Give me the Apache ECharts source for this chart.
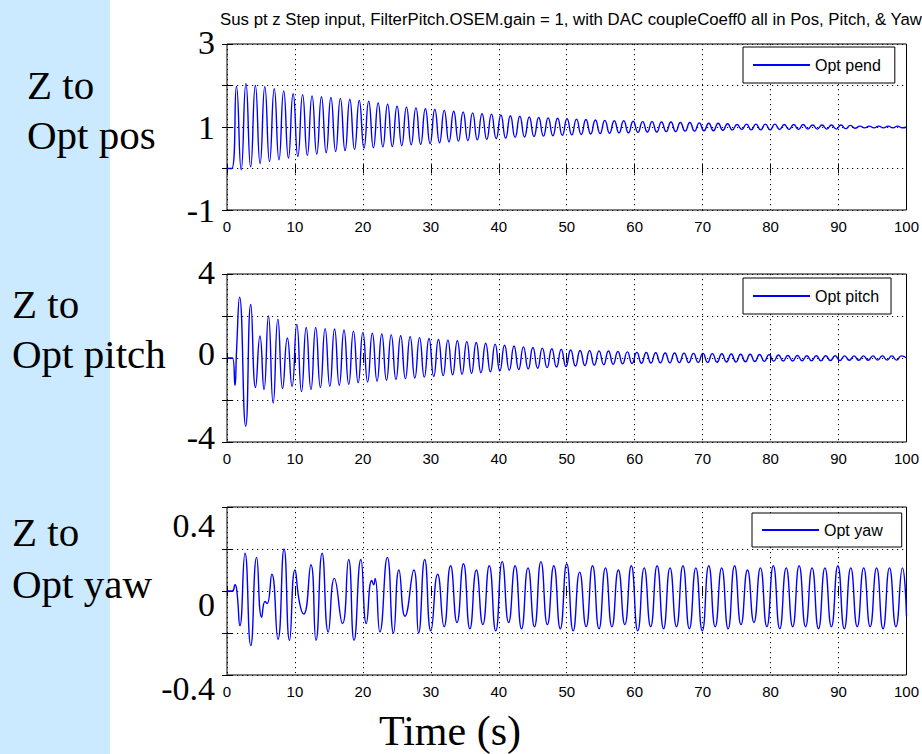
<!DOCTYPE html>
<html>
<head>
<meta charset="utf-8">
<script src="https://cdn.jsdelivr.net/npm/echarts@6/dist/echarts.min.js"></script>
<style>
html,body{margin:0;padding:0;background:#fff;}
#c{width:922px;height:754px;}
</style>
</head>
<body>
<div id="c"></div>
<script>
// ---------- data ----------
const titleText = 'Sus pt z Step input, FilterPitch.OSEM.gain = 1, with DAC coupleCoeff0 all in Pos, Pitch, & Yaw';
const xTicks = [0, 100, 10];          // min, max, interval (s)
const seriesNames = ['Opt pend', 'Opt pitch', 'Opt yaw'];
const rowLabels = [['Z to', 'Opt pos'], ['Z to', 'Opt pitch'], ['Z to', 'Opt yaw']];
const xTitle = 'Time (s)';

// y tick labels shown (big overlaid labels)
const posTickVals = [3, 1, -1];       const posTickText = ['3', '1', '-1'];
const pitchTickVals = [4, 0, -4];     const pitchTickText = ['4', '0', '-4'];
const yawTickVals = [0.4, 0, -0.4];   const yawTickText = ['0.4', '0', '-0.4'];

// Opt pend: troughs and peaks of the oscillation (alternating, half-period 0.695 s from t=0.7)
const pendTroughs = [
 0.00,-0.03,0.04,0.12,0.17,0.21,0.25,0.29,0.32,0.35,
 0.38,0.41,0.43,0.46,0.49,0.50,0.52,0.53,0.55,0.57,
 0.58,0.60,0.62,0.64,0.66,0.67,0.69,0.70,0.72,0.73,
 0.75,0.76,0.77,0.78,0.79,0.80,0.81,0.82,0.83,0.84,
 0.85,0.86,0.86,0.87,0.88,0.88,0.89,0.89,0.90,0.90,
 0.91,0.91,0.92,0.93,0.94,0.93,0.93,0.93,0.94,0.94,
 0.94,0.95,0.95,0.95,0.95,0.96,0.97,0.98,0.98,0.98,
 0.98,0.98];
const pendPeaks = [
 1.98,2.05,2.00,1.97,1.92,1.87,1.80,1.78,1.75,1.73,
 1.71,1.69,1.67,1.64,1.62,1.58,1.55,1.50,1.48,1.46,
 1.44,1.42,1.40,1.38,1.36,1.34,1.32,1.31,1.29,1.27,
 1.26,1.24,1.23,1.22,1.21,1.20,1.19,1.18,1.17,1.16,
 1.15,1.15,1.14,1.13,1.13,1.12,1.12,1.11,1.11,1.10,
 1.09,1.09,1.08,1.06,1.07,1.07,1.07,1.07,1.06,1.06,
 1.06,1.05,1.05,1.05,1.05,1.04,1.02,1.02,1.02,1.02,
 1.02];
const pendStart = [[0, 0]];
const pendEnd = [[100, 1.0]];

// Opt pitch: irregular start, then peaks/troughs (half-period 0.695 s from t=6.1)
const pitchEarlyT = [0, 0.8, 1.17, 1.4, 1.85, 2.75, 3.5, 4.2, 4.85, 5.45];
const pitchEarlyV = [0, 0, -1.3, 0.3, 2.9, -3.25, 2.55, -1.4, 1.05, -1.5];
const pitchPeaks = [
 2.00,1.85,0.95,1.60,1.45,1.45,1.40,1.38,1.33,1.28,
 1.22,1.18,1.14,1.10,1.06,1.02,0.97,0.93,0.88,0.85,
 0.82,0.78,0.74,0.70,0.66,0.61,0.57,0.53,0.50,0.47,
 0.44,0.41,0.38,0.36,0.35,0.34,0.33,0.31,0.29,0.27,
 0.26,0.25,0.24,0.24,0.23,0.22,0.22,0.21,0.20,0.19,
 0.18,0.18,0.17,0.16,0.14,0.12,0.12,0.11,0.11,0.11,
 0.11,0.10,0.10,0.10,0.10,0.10,0.10,0.10];
const pitchTroughs = [
 -2.15,-1.45,-1.35,-1.60,-1.50,-1.40,-1.35,-1.30,-1.25,-1.18,
 -1.14,-1.10,-1.06,-1.02,-0.98,-0.95,-0.91,-0.88,-0.84,-0.80,
 -0.77,-0.73,-0.70,-0.66,-0.62,-0.58,-0.55,-0.52,-0.49,-0.46,
 -0.43,-0.41,-0.38,-0.36,-0.34,-0.32,-0.30,-0.28,-0.26,-0.25,
 -0.24,-0.23,-0.23,-0.22,-0.22,-0.21,-0.21,-0.20,-0.19,-0.19,
 -0.18,-0.17,-0.16,-0.15,-0.14,-0.14,-0.13,-0.13,-0.13,-0.12,
 -0.12,-0.11,-0.11,-0.11,-0.10,-0.10,-0.10];
const pitchEnd = [[100, 0.0]];

// Opt yaw: irregular beating start, then peaks/troughs (half-period 0.95 s from t=31)
const yawEarlyT = [0,0.78,1.18,1.45,1.9,2.65,3.5,4.36,5.1,5.6,5.9,6.6,7.5,8.4,9.2,10.0,10.7,11.3,12.35,13.1,
  14.0,14.9,15.8,17.0,17.9,18.7,19.7,20.5,21.3,21.6,21.8,22.5,23.6,24.5,25.3,26.2,27.5,28.2,29.1,30.0];
const yawEarlyV = [0,0,0.03,0.0,-0.165,0.18,-0.26,0.16,-0.125,-0.05,-0.06,0.08,-0.23,0.2,-0.235,0.1,-0.06,-0.11,0.125,-0.235,
  0.18,-0.195,0.06,-0.155,0.15,-0.235,0.15,-0.155,0.05,0.03,0.06,-0.195,0.16,-0.2,0.1,-0.12,0.1,-0.2,0.15,-0.19];
const yawPeaks = [
 0.08,0.12,0.13,0.10,0.12,0.14,0.12,0.11,0.14,0.12,
 0.13,0.09,0.12,0.11,0.10,0.12,0.11,0.12,0.11,0.12,
 0.11,0.12,0.11,0.12,0.10,0.11,0.12,0.11,0.12,0.11,
 0.11,0.12,0.11,0.11,0.11,0.11,0.11];
const yawTroughs = [
 -0.17,-0.15,-0.18,-0.16,-0.19,-0.15,-0.18,-0.17,-0.16,-0.18,
 -0.19,-0.17,-0.18,-0.17,-0.16,-0.19,-0.17,-0.18,-0.17,-0.18,
 -0.19,-0.17,-0.18,-0.16,-0.15,-0.17,-0.18,-0.17,-0.17,-0.18,
 -0.17,-0.18,-0.17,-0.17,-0.18,-0.17];
const yawEnd = [[100, -0.12]];

// ---------- build series data ----------
function zigzag(t0, half, first, second) {
  const out = [];
  for (let i = 0; i < first.length; i++) {
    out.push([t0 + 2 * i * half, first[i]]);
    if (i < second.length) out.push([t0 + (2 * i + 1) * half, second[i]]);
  }
  return out;
}
function pairs(ts, vs) { return ts.map((t, i) => [t, vs[i]]); }

const pendData = pendStart.concat(zigzag(0.7, 0.695, pendTroughs, pendPeaks), pendEnd);
const pitchData = pairs(pitchEarlyT, pitchEarlyV).concat(zigzag(6.1, 0.695, pitchPeaks, pitchTroughs), pitchEnd);
const yawData = pairs(yawEarlyT, yawEarlyV).concat(zigzag(31.0, 0.95, yawPeaks, yawTroughs), yawEnd);

// ---------- layout / style ----------
const BLUE = '#0000FF';
const SANS = "'Liberation Sans', Arial, sans-serif";
const SERIF = "'Liberation Serif', 'Times New Roman', serif";
const grids = [
  { left: 227, top: 44, width: 681, height: 166 },
  { left: 227, top: 274, width: 681, height: 168 },
  { left: 227, top: 507, width: 681, height: 168 }
];
const yRanges = [
  { min: -1, max: 3, interval: 1 },
  { min: -4, max: 4, interval: 2 },
  { min: -0.4, max: 0.4, interval: 0.2 }
];
const labelShift = [[-2, 0, 0], [-2, -5, -5], [18, 13, 13]];
const legendPos = [{ left: 743, top: 47 }, { left: 743, top: 278 }, { left: 752, top: 513 }];
const legendPad = [[10, 14, 10, 10], [10, 12, 10, 10], [9, 19, 9, 10]];

function yLabel(vals, texts, shifts) {
  const rich = {};
  vals.forEach((v, i) => {
    const s = shifts[i];
    rich['s' + i] = {
      fontFamily: SERIF, fontSize: 34, color: '#000',
      padding: s >= 0 ? [2 * s, 0, 0, 0] : [0, 0, -2 * s, 0]
    };
  });
  return {
    show: true, margin: 12,
    formatter: function (v) {
      const i = vals.findIndex(x => Math.abs(x - v) < 1e-9);
      return i < 0 ? '' : '{s' + i + '|' + texts[i] + '}';
    },
    rich: rich
  };
}
const yLabels = [
  yLabel(posTickVals, posTickText, labelShift[0]),
  yLabel(pitchTickVals, pitchTickText, labelShift[1]),
  yLabel(yawTickVals, yawTickText, labelShift[2])
];

const dotted = { show: true, lineStyle: { color: '#000', width: 1, type: [1.2, 3.8] } };
const tickIn = { show: true, inside: true, length: 5, lineStyle: { color: '#000', width: 1 } };

const xAxes = [], yAxes = [];
grids.forEach((g, gi) => {
  xAxes.push({
    type: 'value', gridIndex: gi, min: xTicks[0], max: xTicks[1], interval: xTicks[2],
    position: 'bottom', axisLine: { show: false }, axisTick: tickIn,
    axisLabel: { fontFamily: SANS, fontSize: 15, color: '#000', margin: 9 },
    splitLine: dotted
  });
  xAxes.push({
    type: 'value', gridIndex: gi, min: xTicks[0], max: xTicks[1], interval: xTicks[2],
    position: 'top', axisLine: { show: false }, axisTick: tickIn,
    axisLabel: { show: false }, splitLine: { show: false }
  });
  yAxes.push(Object.assign({
    type: 'value', gridIndex: gi, position: 'left',
    axisLine: { show: false }, axisTick: tickIn, axisLabel: yLabels[gi], splitLine: dotted
  }, yRanges[gi]));
  yAxes.push(Object.assign({
    type: 'value', gridIndex: gi, position: 'right',
    axisLine: { show: false }, axisTick: tickIn, axisLabel: { show: false }, splitLine: { show: false }
  }, yRanges[gi]));
});

const datas = [pendData, pitchData, yawData];
const series = datas.map((d, i) => ({
  name: seriesNames[i], type: 'line', xAxisIndex: 2 * i, yAxisIndex: 2 * i,
  data: d, symbol: 'none', showSymbol: false, animation: false, smooth: 0.55,
  lineStyle: { color: BLUE, width: 1.4 }, itemStyle: { color: BLUE }, z: 3
}));

const legends = seriesNames.map((n, i) => ({
  data: [n], left: legendPos[i].left, top: legendPos[i].top, orient: 'horizontal',
  backgroundColor: '#fff', borderColor: '#000', borderWidth: 1, borderRadius: 0,
  padding: legendPad[i], itemWidth: 57, itemHeight: 2, icon: 'rect',
  itemStyle: { color: BLUE },
  textStyle: { fontFamily: SANS, fontSize: 16, lineHeight: 16, color: '#000' },
  selectedMode: false, z: 10
}));

const rowLabelPos = [
  { x: 27, y: [85, 135] },
  { x: 12, y: [304, 354] },
  { x: 12, y: [532, 584] }
];
const graphics = [
  { type: 'rect', shape: { x: 0, y: 0, width: 110, height: 754 }, style: { fill: '#CCEAFF' }, z: -10, silent: true }
];
rowLabels.forEach((lines, i) => {
  lines.forEach((t, j) => {
    graphics.push({
      type: 'text', x: rowLabelPos[i].x, y: rowLabelPos[i].y[j], z: 5,
      style: { text: t, fontFamily: SERIF, fontSize: 41, fill: '#000', align: 'left', verticalAlign: 'middle' }
    });
  });
});
graphics.push({
  type: 'text', x: 450, y: 731, z: 5,
  style: { text: xTitle, fontFamily: SERIF, fontSize: 42, fill: '#000', align: 'center', verticalAlign: 'middle' }
});

const chart = echarts.init(document.getElementById('c'), null, { renderer: 'svg', width: 922, height: 754 });
chart.setOption({
  backgroundColor: '#fff',
  animation: false,
  title: {
    text: titleText, left: 566, top: 6, textAlign: 'center',
    textStyle: { fontFamily: SANS, fontSize: 16.8, fontWeight: 'normal', color: '#000' }
  },
  grid: grids.map(g => Object.assign({ show: true, borderColor: '#000', borderWidth: 1, backgroundColor: '#fff', containLabel: false }, g)),
  xAxis: xAxes,
  yAxis: yAxes,
  legend: legends,
  series: series,
  graphic: graphics
});
</script>
</body>
</html>
